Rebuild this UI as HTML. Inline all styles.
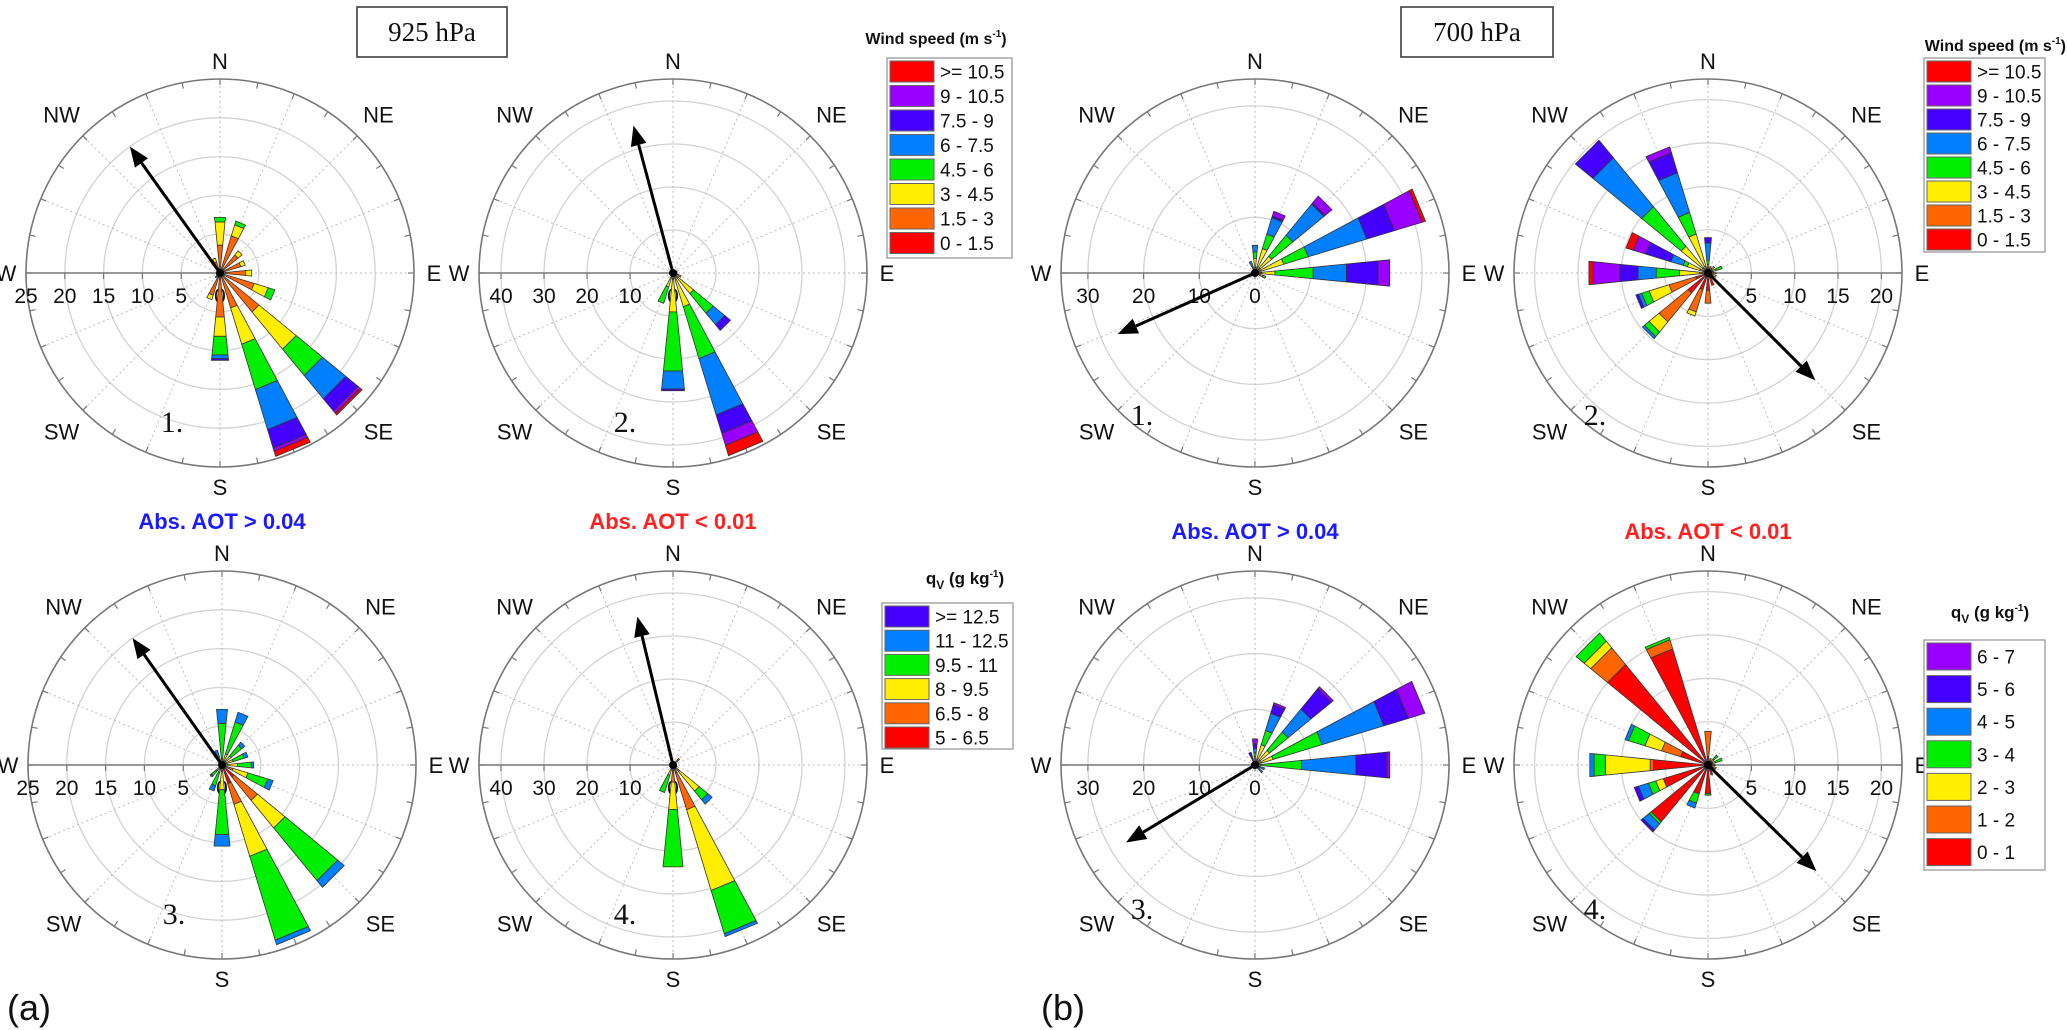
<!DOCTYPE html>
<html><head><meta charset="utf-8"><title>Wind roses</title>
<style>
html,body{margin:0;padding:0;background:#fff;}
svg{display:block;font-family:"Liberation Sans",sans-serif;}
</style></head>
<body>
<svg id="fig" width="2067" height="1030" viewBox="0 0 2067 1030" xmlns="http://www.w3.org/2000/svg"></svg>
<script>
// ---------- data ----------
const roseDirs = [0,22.5,45,67.5,90,112.5,135,157.5,180,202.5,225,247.5,270,292.5,315,337.5];
const windColors = ["#ff0000","#ff6600","#ffee00","#00ee00","#0080ff","#4400ff","#9900ff","#ff0000"];
const windLabels = [">= 10.5","9 - 10.5","7.5 - 9","6 - 7.5","4.5 - 6","3 - 4.5","1.5 - 3","0 - 1.5"];
const qvColorsA = ["#ff0000","#ff6600","#ffee00","#00ee00","#0080ff","#4400ff"];
const qvLabelsA = [">= 12.5","11 - 12.5","9.5 - 11","8 - 9.5","6.5 - 8","5 - 6.5"];
const qvColorsB = ["#ff0000","#ff6600","#ffee00","#00ee00","#0080ff","#4400ff","#9900ff"];
const qvLabelsB = ["6 - 7","5 - 6","4 - 5","3 - 4","2 - 3","1 - 2","0 - 1"];

// cumulative stacked values per direction (from lowest bin upward)
const a1Values = [[0.3,3.6,6.6,7.2],[0.3,5.0,6.5,7.0],[0.3,3.0,3.7],[0.3,2.8,3.4],[0.3,3.3,4.1],[0.3,4.6,6.5,7.4],
 [0.4,6.5,12.7,17.1,21.0,23.0,23.4,23.7],[0.4,4.7,9.6,15.7,21.1,23.6,24.0,24.7],[0.4,5.7,8.2,10.6,11.1,11.3],
 [0.3,3.0,3.6],[0.8],[0.5],[0.4],[0.4],[0.5],[0.3,1.5,2.0]];
const a2Values = [[0.5],[0.5],[0.5],[0.5,1.0],[0.5,1.0],[0.5,1.5,2.0],[0.5,1.5,6.2,12.1,15.6,17.3],
 [0.5,1.5,8.2,20.8,34.5,39.0,41.9,44.4],[0.5,1.5,9.1,22.9,27.1,27.5],[0.5,1.0,3.4,7.4],[0.5],[0.5],[0.3],[0.3],[0.3],[0.3]];
const a3Values = [[0.2,0.4,0.8,5.4,7.2],[0.2,0.5,1.5,5.8,7.1],[0.2,0.5,1.5,3.3,3.8],[0.2,0.5,1.5,3.0,3.5],[0.2,0.5,2.0,3.8,4.1],
 [0.3,1.5,3.5,6.2,6.9],[2.0,5.9,10.5,19.3,20.4],[2.5,5.3,12.3,23.6,24.2],[0.3,0.8,3.2,9.0,10.5],[0.2,0.5,1.0,2.8,3.5],
 [0.2,0.5,1.0,1.8,2.0],[0.3],[0.3],[0.3],[0.3],[0.2,0.4,0.6,1.2,2.0]];
const a4Values = [[0.5],[0.5],[0.5,2.0],[0.5],[0.5],[0.5,1.0],[0.5,2.0,7.9,10.5,11.8],[2.0,10.9,30.5,41.0,41.7],
 [1.0,4.0,10.4,23.8],[0.5,1.0,2.5,6.7],[0.5],[0.5],[0.3],[0.3],[0.3],[0.3]];
const b1Values = [[0.5,1.0,2.6,3.8,5.0],[0.5,1.2,4.6,7.3,10.4,10.7,11.6],[0.5,1.2,3.9,8.8,16.0,16.3,17.9],
 [0.5,1.2,5.4,10.0,21.0,26.2,31.4,32.0],[0.5,1.2,3.6,10.5,16.5,22.2,24.3],[0.5,1.0,1.5,2.0],[0.6],[0.6],[0.6],[0.6],[0.6],[0.6],[0.6],[0.6],[0.6],
 [0.3,0.5,0.8,1.2,2.2]];
const b2Values = [[0.3,0.6,1.0,1.5,3.5,4.1],[0.5,0.8],[0.3,0.6,1.0],[0.3,0.6,1.0,1.7],[0.3,0.6,0.9],[0.3,0.6,1.0],[0.5,0.8],[1.5],
 [2.0,3.5],[2.0,4.7,5.2],[3.0,7.3,8.8,9.5,9.8],[1.5,4.7,7.1,8.0,8.4,8.7],[0.5,1.0,3.3,6.0,8.1,10.2,13.3,13.8],
 [0.5,1.0,2.5,3.0,4.5,7.5,9.0,9.9],[0.3,0.8,4.0,9.9,17.2,19.8],[0.3,0.8,4.7,7.3,12.1,14.5,15.2]];
const b3Values = [[0.3,0.8,1.5,2.2,3.0,3.8,4.7],[0.3,1.2,3.8,6.5,9.7,11.3,11.7],[0.3,1.2,3.4,7.7,13.0,17.7,18.2],
 [0.3,1.2,3.4,12.6,24.2,28.8,31.9],[0.3,0.6,1.0,8.4,18.2,23.8,24.3],[0.3,0.6,0.8,1.0,1.8],[0.3,0.6,0.8,1.0,1.8],
 [0.5],[0.5],[0.5],[0.5],[0.5],[0.5],[0.5],[0.5],[0.2,0.4,0.6,0.8,1.2,2.4]];
const b4Values = [[1.0,3.9],[0.5,0.8],[0.3,0.6,0.9,1.5],[0.3,0.6,0.9,1.7],[0.5,0.8],[0.5,1.0],[0.8],[1.2],
 [3.3,3.3,3.3,3.5],[3.5,3.5,3.5,4.6,5.2],[8.5,8.5,8.5,8.8,9.7,10.0],[5.4,5.4,6.3,7.2,8.4,8.9],
 [6.3,6.7,11.9,13.2,13.7],[3.3,5.6,7.6,9.6,10.0],[15.0,17.5,18.5,19.7],[14.0,15.1,15.1,15.4]];

const ringsA1 = [5,10,15,20];
const tickLabelsA1 = ["25","20","15","10","5","0"];
const tickValuesA1 = [25,20,15,10,5,0];
const ringsA2 = [10,20,30,40];
const tickLabelsA2 = ["40","30","20","10","0"];
const tickValuesA2 = [40,30,20,10,0];
const ringsB1 = [10,20,30];
const tickLabelsB1 = ["30","20","10","0"];
const tickValuesB1 = [30,20,10,0];
const ringsB2 = [5,10,15,20];
const tickLabelsB2 = ["5","10","15","20"];
const tickValuesB2 = [5,10,15,20];

const arrowDirs = [324.5,345,324.8,346.5,246,135,239,134.4];
const arrowMags = [20,35.5,20,35.5,27,17.5,27,17.5];

// ---------- drawing ----------
const NS = "http://www.w3.org/2000/svg";
const svg = document.getElementById("fig");
function mk(tag, attrs, parent){
  const e = document.createElementNS(NS, tag);
  for (const k in attrs) e.setAttribute(k, attrs[k]);
  (parent||svg).appendChild(e);
  return e;
}
function pol(cx,cy,r,deg){const a=deg*Math.PI/180;return [cx+r*Math.sin(a), cy-r*Math.cos(a)];}

const R = 194;
function drawRose(id, cx, cy, pxPerUnit, rings, tickVals, tickLbls, side, values, colors, arrowIdx){
  const g = mk("g",{});
  
  
  const rad = v => v*pxPerUnit;
  rings.forEach(v=>{
    const c = mk("circle",{cx:cx,cy:cy,r:rad(v),fill:"none",stroke:"#d2d2d2","stroke-width":1.3},g);
    
    
  });
  for(let i=0;i<16;i++){
    const d=i*22.5;
    if ((side==="left" && d===270)) continue;
    if ((side==="right" && d===90)) continue;
    const p=pol(cx,cy,R,d);
    const l = mk("line",{x1:cx,y1:cy,x2:p[0],y2:p[1],stroke:"#bbbbbb","stroke-width":1,"stroke-dasharray":"2,3"},g);
    
    
  }
  const oc = mk("circle",{cx:cx,cy:cy,r:R,fill:"none",stroke:"#777","stroke-width":1.6},g);
  
  
  for(let i=0;i<32;i++){
    const p1=pol(cx,cy,R,i*11.25), p2=pol(cx,cy,R-6,i*11.25);
    mk("line",{x1:p1[0],y1:p1[1],x2:p2[0],y2:p2[1],stroke:"#777","stroke-width":1.2},g);
  }
  const sgn = side==="left"?-1:1;
  const ax = mk("line",{x1:cx,y1:cy,x2:cx+sgn*R,y2:cy,stroke:"#777","stroke-width":1.5},g);
  
  
  tickVals.forEach((v,i)=>{
    const x=cx+sgn*rad(v);
    mk("line",{x1:x,y1:cy,x2:x,y2:cy+6,stroke:"#777","stroke-width":1.2},g);
    const t = mk("text",{x:x,y:cy+30,"font-size":21,"text-anchor":"middle",fill:"#111"},g);
    t.textContent = tickLbls[i];
    
    
  });
  const comp=[["N",0,212],["NE",45,224],["E",90,214],["SE",135,224],["S",180,214],["SW",225,224],["W",270,214],["NW",315,224]];
  comp.forEach(c=>{
    const p=pol(cx,cy,c[2],c[1]);
    const t = mk("text",{x:p[0],y:p[1]+8,"font-size":22,"text-anchor":"middle",fill:"#111"},g);
    t.textContent=c[0];
    
    
  });
  const hw = 5.6;
  values.forEach((stack,di)=>{
    const d = roseDirs[di];
    let prev = 0;
    stack.forEach((v,bi)=>{
      if (v<=prev) return;
      const r0=rad(prev), r1=rad(v);
      const p1=pol(cx,cy,r0,d-hw),p2=pol(cx,cy,r1,d-hw),p3=pol(cx,cy,r1,d+hw),p4=pol(cx,cy,r0,d+hw);
      const poly = mk("polygon",{points:[p1,p2,p3,p4].map(p=>p[0].toFixed(1)+","+p[1].toFixed(1)).join(" "),
        fill:colors[bi],stroke:"#333","stroke-width":0.8,"stroke-linejoin":"round"},g);
      
      
      prev=v;
    });
  });
  mk("circle",{cx:cx,cy:cy,r:4,fill:"#000"},g);
  const ad = arrowDirs[arrowIdx], len = rad(arrowMags[arrowIdx]);
  const tip = pol(cx,cy,len,ad), base = pol(cx,cy,len-20,ad);
  const l1 = pol(base[0],base[1],8,ad-90), l2 = pol(base[0],base[1],8,ad+90);
  const al = mk("line",{x1:cx,y1:cy,x2:base[0],y2:base[1],stroke:"#000","stroke-width":3},g);
  
  
  const ah = mk("polygon",{points:`${tip[0]},${tip[1]} ${l1[0]},${l1[1]} ${l2[0]},${l2[1]}`,fill:"#000"},g);
  
  
}

drawRose("a1",220,273,R/25,ringsA1,tickValuesA1,tickLabelsA1,"left",a1Values,windColors,0);
drawRose("a2",673,273,4.3,ringsA2,tickValuesA2,tickLabelsA2,"left",a2Values,windColors,1);
drawRose("a3",222,765,R/25,ringsA1,tickValuesA1,tickLabelsA1,"left",a3Values,qvColorsA,2);
drawRose("a4",673,765,4.3,ringsA2,tickValuesA2,tickLabelsA2,"left",a4Values,qvColorsA,3);
drawRose("b1",1255,273,5.57,ringsB1,tickValuesB1,tickLabelsB1,"left",b1Values,windColors,4);
drawRose("b2",1708,273,8.67,ringsB2,tickValuesB2,tickLabelsB2,"right",b2Values,windColors,5);
drawRose("b3",1255,765,5.57,ringsB1,tickValuesB1,tickLabelsB1,"left",b3Values,qvColorsB,6);
drawRose("b4",1708,765,8.67,ringsB2,tickValuesB2,tickLabelsB2,"right",b4Values,qvColorsB,7);

// ---------- legends ----------
function legend(id,x0,y0,x1,y1,labels,colors,rowH,swH,fs){
  const g = mk("g",{});
  
  
  mk("rect",{x:x0,y:y0,width:x1-x0,height:y1-y0,fill:"#fff",stroke:"#999","stroke-width":1.3},g);
  labels.forEach((lb,i)=>{
    const ry = y0+3+i*rowH;
    const c = colors[colors.length-1-i];
    const sw = mk("rect",{x:x0+3,y:ry,width:44,height:swH,fill:c,stroke:"#666","stroke-width":1},g);
    
    
    const t = mk("text",{x:x0+53,y:ry+swH/2+7,"font-size":fs,fill:"#111"},g);
    t.textContent = lb;
    
    
  });
}
legend("wind-legend-a",887,58,1012,258,windLabels,windColors,24.5,21,19);
legend("wind-legend-b",1924,58,2045,252,windLabels,windColors,24,21,19);
legend("qv-legend-a",882,603,1013,749,qvLabelsA,qvColorsA,24.2,21,19);
legend("qv-legend-b",1924,640,2045,870,qvLabelsB,qvColorsB,32.6,27,19);
</script>

<svg style="position:absolute;left:0;top:0" width="2067" height="1030" viewBox="0 0 2067 1030" xmlns="http://www.w3.org/2000/svg">
  <g font-family="Liberation Sans, sans-serif">
    <text x="936" y="44" font-size="16" font-weight="bold" text-anchor="middle" fill="#111">Wind speed (m s<tspan font-size="10" dy="-7">-1</tspan><tspan dy="7">)</tspan></text>
    <text x="2066" y="51" font-size="16" font-weight="bold" text-anchor="end" fill="#111">Wind speed (m s<tspan font-size="10" dy="-7">-1</tspan><tspan dy="7">)</tspan></text>
    <text x="965" y="584" font-size="17" font-weight="bold" text-anchor="middle" fill="#111">q<tspan font-size="12" dy="5">V</tspan><tspan dy="-5"> (g kg</tspan><tspan font-size="10" dy="-7">-1</tspan><tspan dy="7">)</tspan></text>
    <text x="1990" y="618" font-size="17" font-weight="bold" text-anchor="middle" fill="#111">q<tspan font-size="12" dy="5">V</tspan><tspan dy="-5"> (g kg</tspan><tspan font-size="10" dy="-7">-1</tspan><tspan dy="7">)</tspan></text>
    <text x="222" y="529" font-size="22" font-weight="bold" text-anchor="middle" fill="#1a1aff">Abs. AOT &gt; 0.04</text>
    <text x="673" y="529" font-size="22" font-weight="bold" text-anchor="middle" fill="#ff2020">Abs. AOT &lt; 0.01</text>
    <text x="1255" y="539" font-size="22" font-weight="bold" text-anchor="middle" fill="#1a1aff">Abs. AOT &gt; 0.04</text>
    <text x="1708" y="539" font-size="22" font-weight="bold" text-anchor="middle" fill="#ff2020">Abs. AOT &lt; 0.01</text>
    <text x="7" y="1020" font-size="36" fill="#111">(a)</text>
    <text x="1041" y="1020" font-size="36" fill="#111">(b)</text>
  </g>
  <g font-family="Liberation Serif, serif" fill="#111">
    <rect x="357" y="7" width="150" height="50" fill="#fff" stroke="#333" stroke-width="1.5"/>
    <text x="432" y="41" font-size="27" text-anchor="middle">925 hPa</text>
    <rect x="1401" y="7" width="152" height="50" fill="#fff" stroke="#333" stroke-width="1.5"/>
    <text x="1477" y="41" font-size="27" text-anchor="middle">700 hPa</text>
    <text x="172" y="432" font-size="30" text-anchor="middle">1.</text>
    <text x="625" y="432" font-size="30" text-anchor="middle">2.</text>
    <text x="174" y="924" font-size="30" text-anchor="middle">3.</text>
    <text x="625" y="924" font-size="30" text-anchor="middle">4.</text>
    <text x="1142" y="425" font-size="30" text-anchor="middle">1.</text>
    <text x="1595" y="425" font-size="30" text-anchor="middle">2.</text>
    <text x="1142" y="919" font-size="30" text-anchor="middle">3.</text>
    <text x="1595" y="919" font-size="30" text-anchor="middle">4.</text>
  </g>
</svg>
</body></html>
